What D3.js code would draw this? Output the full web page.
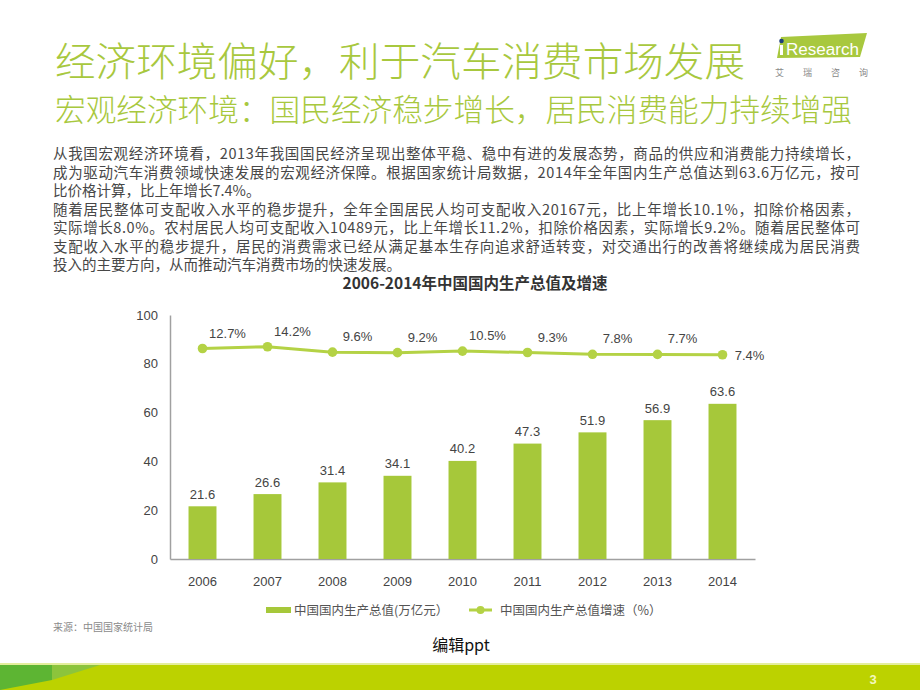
<!DOCTYPE html>
<meta charset="utf-8">
<head>
	<title>2006-2014年中国国内生产总值及增速</title>
	<style>
		body { margin: 0; background: #FFFFFF; }
		#slide { display: block; }
		.cjk { font-family: "Noto Sans CJK SC", "Noto Sans", sans-serif; }
		.num { font-family: "Liberation Sans", Arial, sans-serif; fill: #444; font-size: 13px; }
		.body { font-size: 14.5px; fill: #474747; }
	</style>
	<script src="https://d3js.org/d3.v7.min.js"></script>
</head>
<body>
	<svg id="slide"></svg>
	<script>
		const W = 920, H = 690;

		// chart data
		const years = ['2006', '2007', '2008', '2009', '2010', '2011', '2012', '2013', '2014'];
		const gdp = [21.6, 26.6, 31.4, 34.1, 40.2, 47.3, 51.9, 56.9, 63.6];
		const growth = [12.7, 14.2, 9.6, 9.2, 10.5, 9.3, 7.8, 7.7, 7.4];
		const leftTicks = [0, 20, 40, 60, 80, 100];
		const legendLabels = ['中国国内生产总值(万亿元）', '中国国内生产总值增速（%）'];

		const bodyLines = [
			'从我国宏观经济环境看，2013年我国国民经济呈现出整体平稳、稳中有进的发展态势，商品的供应和消费能力持续增长，',
			'成为驱动汽车消费领域快速发展的宏观经济保障。根据国家统计局数据，2014年全年国内生产总值达到63.6万亿元，按可',
			'比价格计算，比上年增长7.4%。',
			'随着居民整体可支配收入水平的稳步提升，全年全国居民人均可支配收入20167元，比上年增长10.1%，扣除价格因素，',
			'实际增长8.0%。农村居民人均可支配收入10489元，比上年增长11.2%，扣除价格因素，实际增长9.2%。随着居民整体可',
			'支配收入水平的稳步提升，居民的消费需求已经从满足基本生存向追求舒适转变，对交通出行的改善将继续成为居民消费',
			'投入的主要方向，从而推动汽车消费市场的快速发展。'
		];
		const fullLines = [true, true, false, true, true, true, false];

		const BAR_GREEN = '#a6c83a', LINE_GREEN = '#b4d245';

		const svg = d3.select('#slide').attr('width', W).attr('height', H);

		// headings
		svg.append('text').attr('class', 'cjk').attr('x', 55).attr('y', 76)
			.attr('textLength', 690).attr('lengthAdjust', 'spacingAndGlyphs')
			.style('font-size', '40px').style('font-weight', 300).style('fill', '#a8c83e')
			.text('经济环境偏好，利于汽车消费市场发展');
		svg.append('text').attr('class', 'cjk').attr('x', 55).attr('y', 121)
			.attr('textLength', 797).attr('lengthAdjust', 'spacingAndGlyphs')
			.style('font-size', '30.5px').style('font-weight', 300).style('fill', '#a8c83e')
			.text('宏观经济环境：国民经济稳步增长，居民消费能力持续增强');

		// iResearch logo
		const logo = svg.append('g');
		logo.append('polygon').attr('points', '777,58 781,37 867,33 860,57').style('fill', '#a8c83e');
		logo.append('rect').attr('x', 780).attr('y', 45).attr('width', 3).attr('height', 10).style('fill', '#fff');
		logo.append('circle').attr('cx', 781.5).attr('cy', 41).attr('r', 2.3).style('fill', '#1d3f7c');
		logo.append('text').attr('x', 786).attr('y', 55).attr('textLength', 73).attr('lengthAdjust', 'spacingAndGlyphs')
			.style('font-family', '"Liberation Sans Narrow", "Liberation Sans", sans-serif').style('font-size', '16px')
			.style('fill', '#fff').text('Research');
		logo.selectAll('.brand').data(['艾', '瑞', '咨', '询']).join('text').attr('class', 'cjk brand')
			.attr('x', (d, i) => 775 + i * 28).attr('y', 76)
			.style('font-size', '9px').style('fill', '#888').text(d => d);

		// paragraph
		svg.selectAll('.body').data(bodyLines).join('text').attr('class', 'cjk body')
			.attr('x', 53).attr('y', (d, i) => 159 + i * 18.5)
			.attr('textLength', (d, i) => fullLines[i] ? 807 : null)
			.attr('lengthAdjust', 'spacing')
			.text(d => d);

		// chart
		const x = d3.scaleBand().domain(years).range([170, 755]).paddingInner(0.57).paddingOuter(0.285);
		const y = d3.scaleLinear().domain([0, 100]).range([559, 315]);
		const yRate = d3.scaleLinear().domain([-166.3, 41.2]).range([559, 315]);
		const cx = d => x(d) + x.bandwidth() / 2;

		svg.append('text').attr('class', 'cjk').attr('x', 475).attr('y', 289).attr('text-anchor', 'middle')
			.style('font-size', '15.5px').style('font-weight', 'bold').style('fill', '#333')
			.text('2006-2014年中国国内生产总值及增速');

		// left axis
		const yAxis = svg.append('g').attr('transform', 'translate(170,0)')
			.call(d3.axisLeft(y).tickValues(leftTicks).tickSize(0).tickPadding(12));
		yAxis.select('.domain').attr('stroke', '#a0a0a0').attr('stroke-width', 1.5);
		yAxis.selectAll('text').attr('class', 'num').attr('font-family', null).attr('font-size', null);

		// bottom axis
		const xAxis = svg.append('g').attr('transform', 'translate(0,559)')
			.call(d3.axisBottom(x).tickSize(0).tickPadding(18).tickSizeOuter(0));
		xAxis.select('.domain').attr('stroke', '#a0a0a0').attr('stroke-width', 1.5);
		xAxis.selectAll('text').attr('class', 'num').attr('font-family', null).attr('font-size', null);

		// bars
		svg.append('g').selectAll('rect').data(years).join('rect')
			.attr('x', d => x(d)).attr('width', x.bandwidth())
			.attr('y', (d, i) => y(gdp[i])).attr('height', (d, i) => y(0) - y(gdp[i]))
			.style('fill', BAR_GREEN);
		svg.append('g').selectAll('text').data(years).join('text').attr('class', 'num')
			.attr('x', d => cx(d)).attr('y', (d, i) => y(gdp[i]) - 7.5).attr('text-anchor', 'middle')
			.text((d, i) => gdp[i].toFixed(1));

		// growth line
		const line = d3.line().x(d => cx(d)).y((d, i) => yRate(growth[i]));
		svg.append('path').datum(years).attr('d', line)
			.style('fill', 'none').style('stroke', LINE_GREEN).style('stroke-width', 3);
		svg.append('g').selectAll('circle').data(years).join('circle')
			.attr('cx', d => cx(d)).attr('cy', (d, i) => yRate(growth[i])).attr('r', 4.8)
			.style('fill', LINE_GREEN);
		const last = years.length - 1;
		svg.append('g').selectAll('text').data(years).join('text').attr('class', 'num')
			.attr('x', (d, i) => cx(d) + (i === last ? 27 : 25))
			.attr('y', (d, i) => yRate(growth[i]) + (i === last ? 5 : -11))
			.attr('text-anchor', 'middle')
			.text((d, i) => growth[i].toFixed(1) + '%');

		// legend
		const legend = svg.append('g').attr('class', 'cjk');
		legend.append('rect').attr('x', 266).attr('y', 607).attr('width', 25).attr('height', 6).style('fill', BAR_GREEN);
		legend.append('text').attr('x', 294).attr('y', 615).style('font-size', '12.5px').style('fill', '#555').text(legendLabels[0]);
		legend.append('line').attr('x1', 469).attr('x2', 492).attr('y1', 610).attr('y2', 610)
			.style('stroke', LINE_GREEN).style('stroke-width', 3);
		legend.append('circle').attr('cx', 480.5).attr('cy', 610).attr('r', 4).style('fill', LINE_GREEN);
		legend.append('text').attr('x', 500).attr('y', 615).style('font-size', '12.5px').style('fill', '#555').text(legendLabels[1]);

		svg.append('text').attr('class', 'cjk').attr('x', 53).attr('y', 631)
			.style('font-size', '10px').style('fill', '#8a8a8a').text('来源：中国国家统计局');

		svg.append('text').attr('class', 'cjk').attr('x', 461).attr('y', 651).attr('text-anchor', 'middle')
			.style('font-size', '16px').style('fill', '#111').text('编辑ppt');

		// bottom band
		svg.append('rect').attr('x', 0).attr('y', 664).attr('width', W).attr('height', 26).style('fill', '#bcd200');
		svg.append('rect').attr('x', 0).attr('y', 663).attr('width', W).attr('height', 2).style('fill', '#e4ee9c');
		svg.append('polygon').attr('points', '0,665 52,665 52,680 0,690').style('fill', '#5db533');
		svg.append('polygon').attr('points', '52,665 100,665 52,680').style('fill', '#8cc43c');
		svg.append('text').attr('x', 873).attr('y', 684).attr('text-anchor', 'middle')
			.style('font-family', '"Liberation Sans", Arial, sans-serif').style('font-weight', 'bold')
			.style('font-size', '13px').style('fill', '#f3f8bd').text('3');
	</script>
</body>
